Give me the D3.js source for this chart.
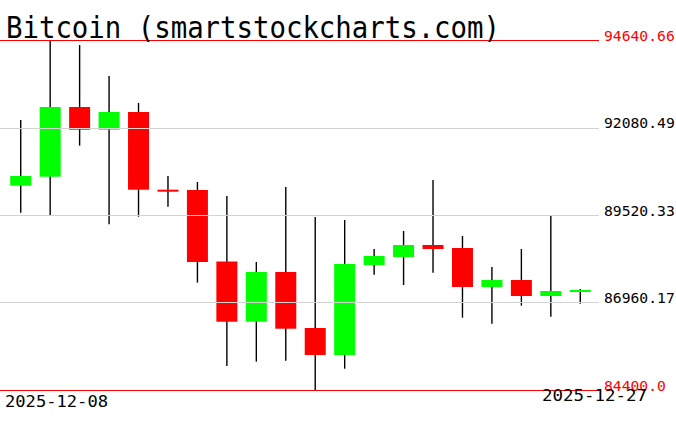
<!DOCTYPE html>
<html><head><meta charset="utf-8">
<script src="https://cdn.jsdelivr.net/npm/d3@7"></script>
<style>html,body{margin:0;padding:0;background:#fff;overflow:hidden}</style>
</head><body>
<svg id="c" width="676" height="431"></svg>
<script>
const dates = ["2025-12-08","2025-12-09","2025-12-10","2025-12-11","2025-12-12","2025-12-13","2025-12-14","2025-12-15","2025-12-16","2025-12-17","2025-12-18","2025-12-19","2025-12-20","2025-12-21","2025-12-22","2025-12-23","2025-12-24","2025-12-25","2025-12-26","2025-12-27"];
const opens  = [90378,90641,92680,92016,92534,90261,90252,88160,86398,87853,86214,85424,88057,88292,88643,88555,87414,87619,87150,87267];
const highs  = [92300,94640.66,94494,93587,92797,90661,90486,90076,88145,90340,89462,89374,88526,89052,90544,88906,87999,88526,89500,87355];
const lows   = [89588,89520,91548,89248,89471,89763,87540,85102,85228,85257,84400,85023,87774,87472,87832,86516,86340,86867,86545,86925];
const closes = [90661,92680,92016,92534,90261,90237,88145,86398,87853,86194,85424,88087,88321,88643,88526,87414,87619,87150,87297,87326];
const yTicks = [84400.0, 86960.17, 89520.33, 92080.49, 94640.66];
const tickLabels = ["84400.0","86960.17","89520.33","92080.49","94640.66"];
const title = "Bitcoin (smartstockcharts.com)";

const data = dates.map((d,i)=>({d, o:opens[i], h:highs[i], l:lows[i], c:closes[i]}));
const svg = d3.select("#c");
const x = d3.scaleBand().domain(dates).range([6,595]).padding(0);
const y = d3.scaleLinear().domain([84400.0, 94640.66]).range([390,40]);
const bw = x.bandwidth()*0.713;
const cx = d => x(d)+x.bandwidth()/2;

const g = svg.append("g");
// wicks
g.selectAll("line.w").data(data).enter().append("line")
  .attr("x1",d=>cx(d.d)).attr("x2",d=>cx(d.d))
  .attr("y1",d=>y(d.h)).attr("y2",d=>y(d.l))
  .attr("stroke","#000").attr("stroke-width",1.4);
// bodies
g.selectAll("rect.b").data(data).enter().append("rect")
  .attr("x",d=>cx(d.d)-bw/2).attr("width",bw)
  .attr("y",d=>y(Math.max(d.o,d.c)))
  .attr("height",d=>Math.max(2, Math.abs(y(d.o)-y(d.c))))
  .attr("fill",d=>d.c>=d.o?"#00ff00":"#ff0000");

// grid lines and labels
const isEdge = (i)=> i===0 || i===yTicks.length-1;
svg.selectAll("line.g").data(yTicks).enter().append("line")
  .attr("x1",0).attr("x2",599)
  .attr("y1",d=>Math.round(y(d))+0.5).attr("y2",d=>Math.round(y(d))+0.5)
  .attr("stroke",(d,i)=>isEdge(i)?"#ff0000":"#d3d3d3").attr("stroke-width",1.2);
svg.selectAll("text.t").data(yTicks).enter().append("text")
  .attr("x",604).attr("y",d=>y(d)+0.5)
  .attr("font-family","DejaVu Sans Mono").attr("font-size",14.7)
  .attr("fill",(d,i)=>isEdge(i)?"#ff0000":"#000")
  .text((d,i)=>tickLabels[i]);

// title
svg.append("text").attr("x",6).attr("y",37.5)
  .attr("font-family","DejaVu Sans Mono").attr("font-size",30)
  .attr("textLength",494).attr("lengthAdjust","spacingAndGlyphs")
  .attr("fill","#000").text(title);

// date labels
svg.append("text").attr("x",5).attr("y",406.5)
  .attr("font-family","DejaVu Sans Mono").attr("font-size",16)
  .attr("textLength",103).attr("lengthAdjust","spacingAndGlyphs")
  .text(dates[0]);
svg.append("text").attr("x",542).attr("y",400.5)
  .attr("font-family","DejaVu Sans Mono").attr("font-size",16)
  .attr("textLength",105).attr("lengthAdjust","spacingAndGlyphs")
  .text(dates[dates.length-1]);
</script>
</body></html>
